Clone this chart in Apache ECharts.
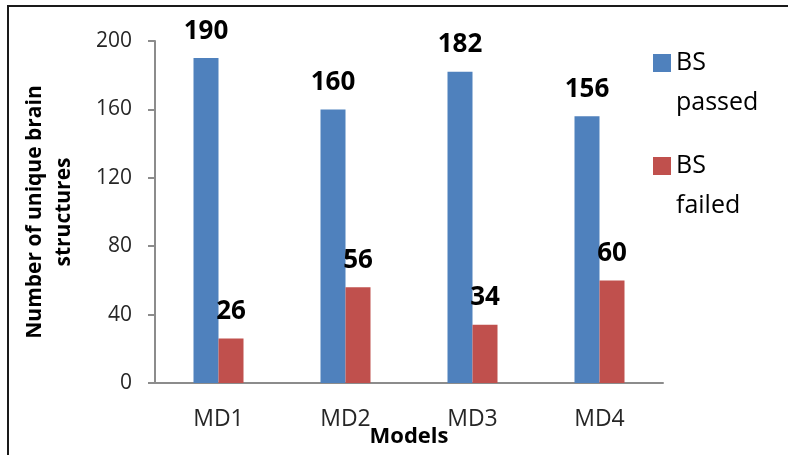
<!DOCTYPE html>
<html>
<head>
<meta charset="utf-8">
<script src="https://cdn.jsdelivr.net/npm/echarts@6/dist/echarts.min.js"></script>
<style>html,body{margin:0;padding:0;background:#fff}#c{width:788px;height:455px}</style>
</head>
<body>
<div id="c"></div>
<script>
const categories = ['MD1', 'MD2', 'MD3', 'MD4'];
const bsPassed = [190, 160, 182, 156];
const bsFailed = [26, 56, 34, 60];
const yTicks = [0, 40, 80, 120, 160, 200];

const chart = echarts.init(document.getElementById('c'));
const font = 'Open Sans';
chart.setOption({
  animation: false,
  textStyle: { fontFamily: font },
  graphic: [{
    type: 'rect', silent: true,
    shape: { x: 8, y: 6, width: 900, height: 600 },
    style: { fill: 'none', stroke: '#1a1a1a', lineWidth: 2 }
  }],
  grid: { left: 155, right: 125, top: 41, bottom: 72, containLabel: false, outerBoundsMode: 'none' },
  legend: {
    orient: 'vertical',
    left: 653, top: 3,
    padding: 0,
    itemWidth: 18, itemHeight: 18, itemGap: -17,
    icon: 'rect',
    formatter: function (n) { return '\n' + n.replace(' ', '\n'); },
    textStyle: { fontFamily: font, fontSize: 25, lineHeight: 40, color: '#000' }
  },
  xAxis: {
    type: 'category',
    data: categories,
    name: 'Models',
    nameLocation: 'middle',
    nameGap: 43,
    nameMoveOverlap: false,
    nameTextStyle: { fontFamily: font, fontSize: 22, fontWeight: 'bold', color: '#000' },
    axisLine: { lineStyle: { color: '#8c8c8c', width: 2 } },
    axisTick: { show: false },
    axisLabel: { fontFamily: font, fontSize: 23, color: '#262626', margin: 25 }
  },
  yAxis: {
    type: 'value',
    min: yTicks[0], max: yTicks[yTicks.length - 1], interval: 40,
    name: 'Number of unique brain\nstructures',
    nameLocation: 'middle',
    nameRotate: 90,
    nameGap: 76,
    nameMoveOverlap: false,
    nameTextStyle: { fontFamily: font, fontSize: 21, fontWeight: 'bold', color: '#000', lineHeight: 29 },
    axisLine: { show: true, lineStyle: { color: '#8c8c8c', width: 2 } },
    axisTick: { show: true, inside: false, length: 7, lineStyle: { color: '#8c8c8c', width: 2 } },
    splitLine: { show: false },
    axisLabel: { fontFamily: font, fontSize: 21, color: '#262626', margin: 23 }
  },
  series: [
    {
      name: 'BS passed', type: 'bar', data: bsPassed,
      barWidth: 25, barGap: '0%',
      itemStyle: { color: '#4F81BD' },
      label: { show: true, position: 'top', distance: 14, fontFamily: font, fontSize: 26, fontWeight: 'bold', color: '#000' }
    },
    {
      name: 'BS failed', type: 'bar', data: bsFailed,
      barWidth: 25, barGap: '0%',
      itemStyle: { color: '#C0504D' },
      label: { show: true, position: 'top', distance: 14, fontFamily: font, fontSize: 26, fontWeight: 'bold', color: '#000' }
    }
  ]
});
</script>
</body>
</html>
